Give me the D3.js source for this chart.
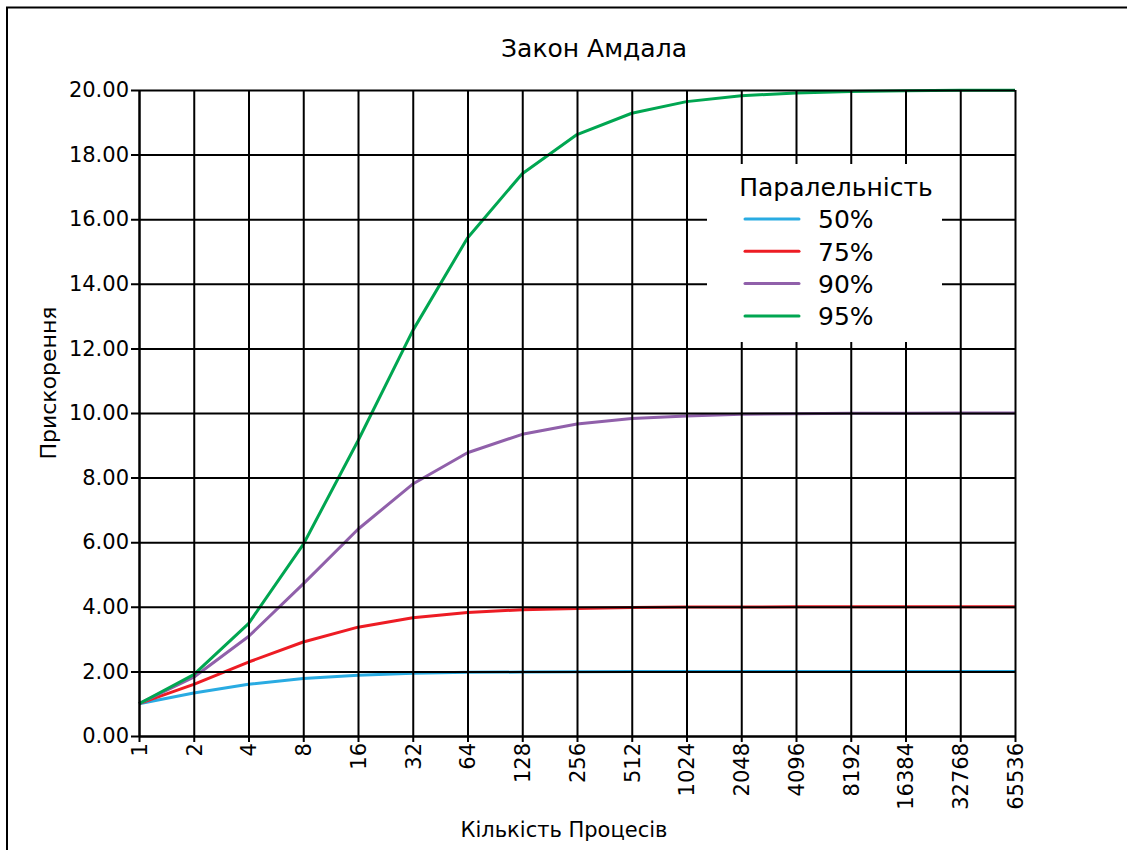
<!DOCTYPE html>
<html><head><meta charset="utf-8">
<script src="https://cdn.jsdelivr.net/npm/d3@7"></script>
<style>body{margin:0;background:#fff}svg{display:block;font-family:"DejaVu Sans",sans-serif}</style>
</head><body><svg id="c" width="1127" height="850"></svg>
<script>
const processors = [1,2,4,8,16,32,64,128,256,512,1024,2048,4096,8192,16384,32768,65536];
const yTicks = [0,2,4,6,8,10,12,14,16,18,20];
const seriesNames = ["50%","75%","90%","95%"];
const seriesColors = ["#29abe2","#ed1c24","#9060aa","#00a651"];
const s50 = [1,1.33,1.6,1.78,1.88,1.94,1.97,1.98,1.99,2.0,2.0,2.0,2.0,2.0,2.0,2.0,2.0];
const s75 = [1,1.6,2.29,2.91,3.37,3.66,3.82,3.91,3.95,3.98,3.99,3.99,4.0,4.0,4.0,4.0,4.0];
const s90 = [1,1.82,3.08,4.71,6.4,7.8,8.77,9.34,9.66,9.83,9.91,9.96,9.98,9.99,9.99,10.0,10.0];
const s95 = [1,1.9,3.48,5.93,9.14,12.55,15.42,17.41,18.62,19.28,19.64,19.82,19.91,19.95,19.98,19.99,19.99];
const seriesValues = [s50,s75,s90,s95];

const svg = d3.select("#c");
const L=139,R=1015,T=90,B=736;
const x = d3.scaleLog().base(2).domain([1,65536]).range([L,R]);
const y = d3.scaleLinear().domain([0,20]).range([B,T]);

// frame
svg.append("path").attr("d","M7,850 V7.5 H1127").attr("fill","none").attr("stroke","#000").attr("stroke-width",2);

// title
svg.append("text").attr("x",594).attr("y",57).attr("text-anchor","middle").attr("font-size",25).text("Закон Амдала");

// series lines
const line = d3.line().x((d,i)=>x(processors[i])).y(d=>y(d));
seriesValues.forEach((vals,k)=>{
  svg.append("path").datum(vals).attr("d",line).attr("fill","none")
    .attr("stroke",seriesColors[k]).attr("stroke-width",3).attr("stroke-linejoin","round");
});

// grid + axes
const gx = svg.append("g").attr("transform",`translate(0,${B})`)
  .call(d3.axisBottom(x).tickValues(processors).tickFormat(d3.format("d")).tickSize(-(B-T)).tickSizeOuter(0));
gx.select(".domain").attr("stroke","#000").attr("stroke-width",2);
gx.selectAll(".tick line").attr("stroke","#000").attr("stroke-width",2).attr("y2",-(B-T)).attr("y1",6);
gx.selectAll(".tick text").attr("font-size",21).attr("font-family","DejaVu Sans")
  .attr("transform","rotate(-90)").attr("text-anchor","end").attr("dy","0.35em").attr("x",-7).attr("y",0);

const gy = svg.append("g").attr("transform",`translate(${L},0)`)
  .call(d3.axisLeft(y).tickValues(yTicks).tickFormat(d3.format(".2f")).tickSizeOuter(0));
gy.select(".domain").attr("stroke","#000").attr("stroke-width",2);
gy.selectAll(".tick line").attr("stroke","#000").attr("stroke-width",2).attr("x1",-8).attr("x2",R-L);
gy.selectAll(".tick text").attr("font-size",21).attr("font-family","DejaVu Sans").attr("x",-10).attr("fill","#000");

// axis labels
svg.append("text").attr("x",564).attr("y",837).attr("text-anchor","middle").attr("font-size",21).text("Кількість Процесів");
svg.append("text").attr("transform","translate(56,383) rotate(-90)").attr("text-anchor","middle").attr("font-size",22).text("Прискорення");

// legend
const lg = svg.append("g");
lg.append("rect").attr("x",707).attr("y",164).attr("width",235).attr("height",178).attr("fill","#fff");
lg.append("text").attr("x",836).attr("y",196).attr("text-anchor","middle").attr("font-size",25).text("Паралельність");
seriesNames.forEach((n,k)=>{
  const yy = 219 + k*32.3;
  lg.append("line").attr("x1",745).attr("x2",799).attr("y1",yy).attr("y2",yy)
    .attr("stroke",seriesColors[k]).attr("stroke-width",3).attr("stroke-linecap","round");
  lg.append("text").attr("x",818).attr("y",yy).attr("dy","0.37em").attr("font-size",25).text(n);
});
</script></body></html>
